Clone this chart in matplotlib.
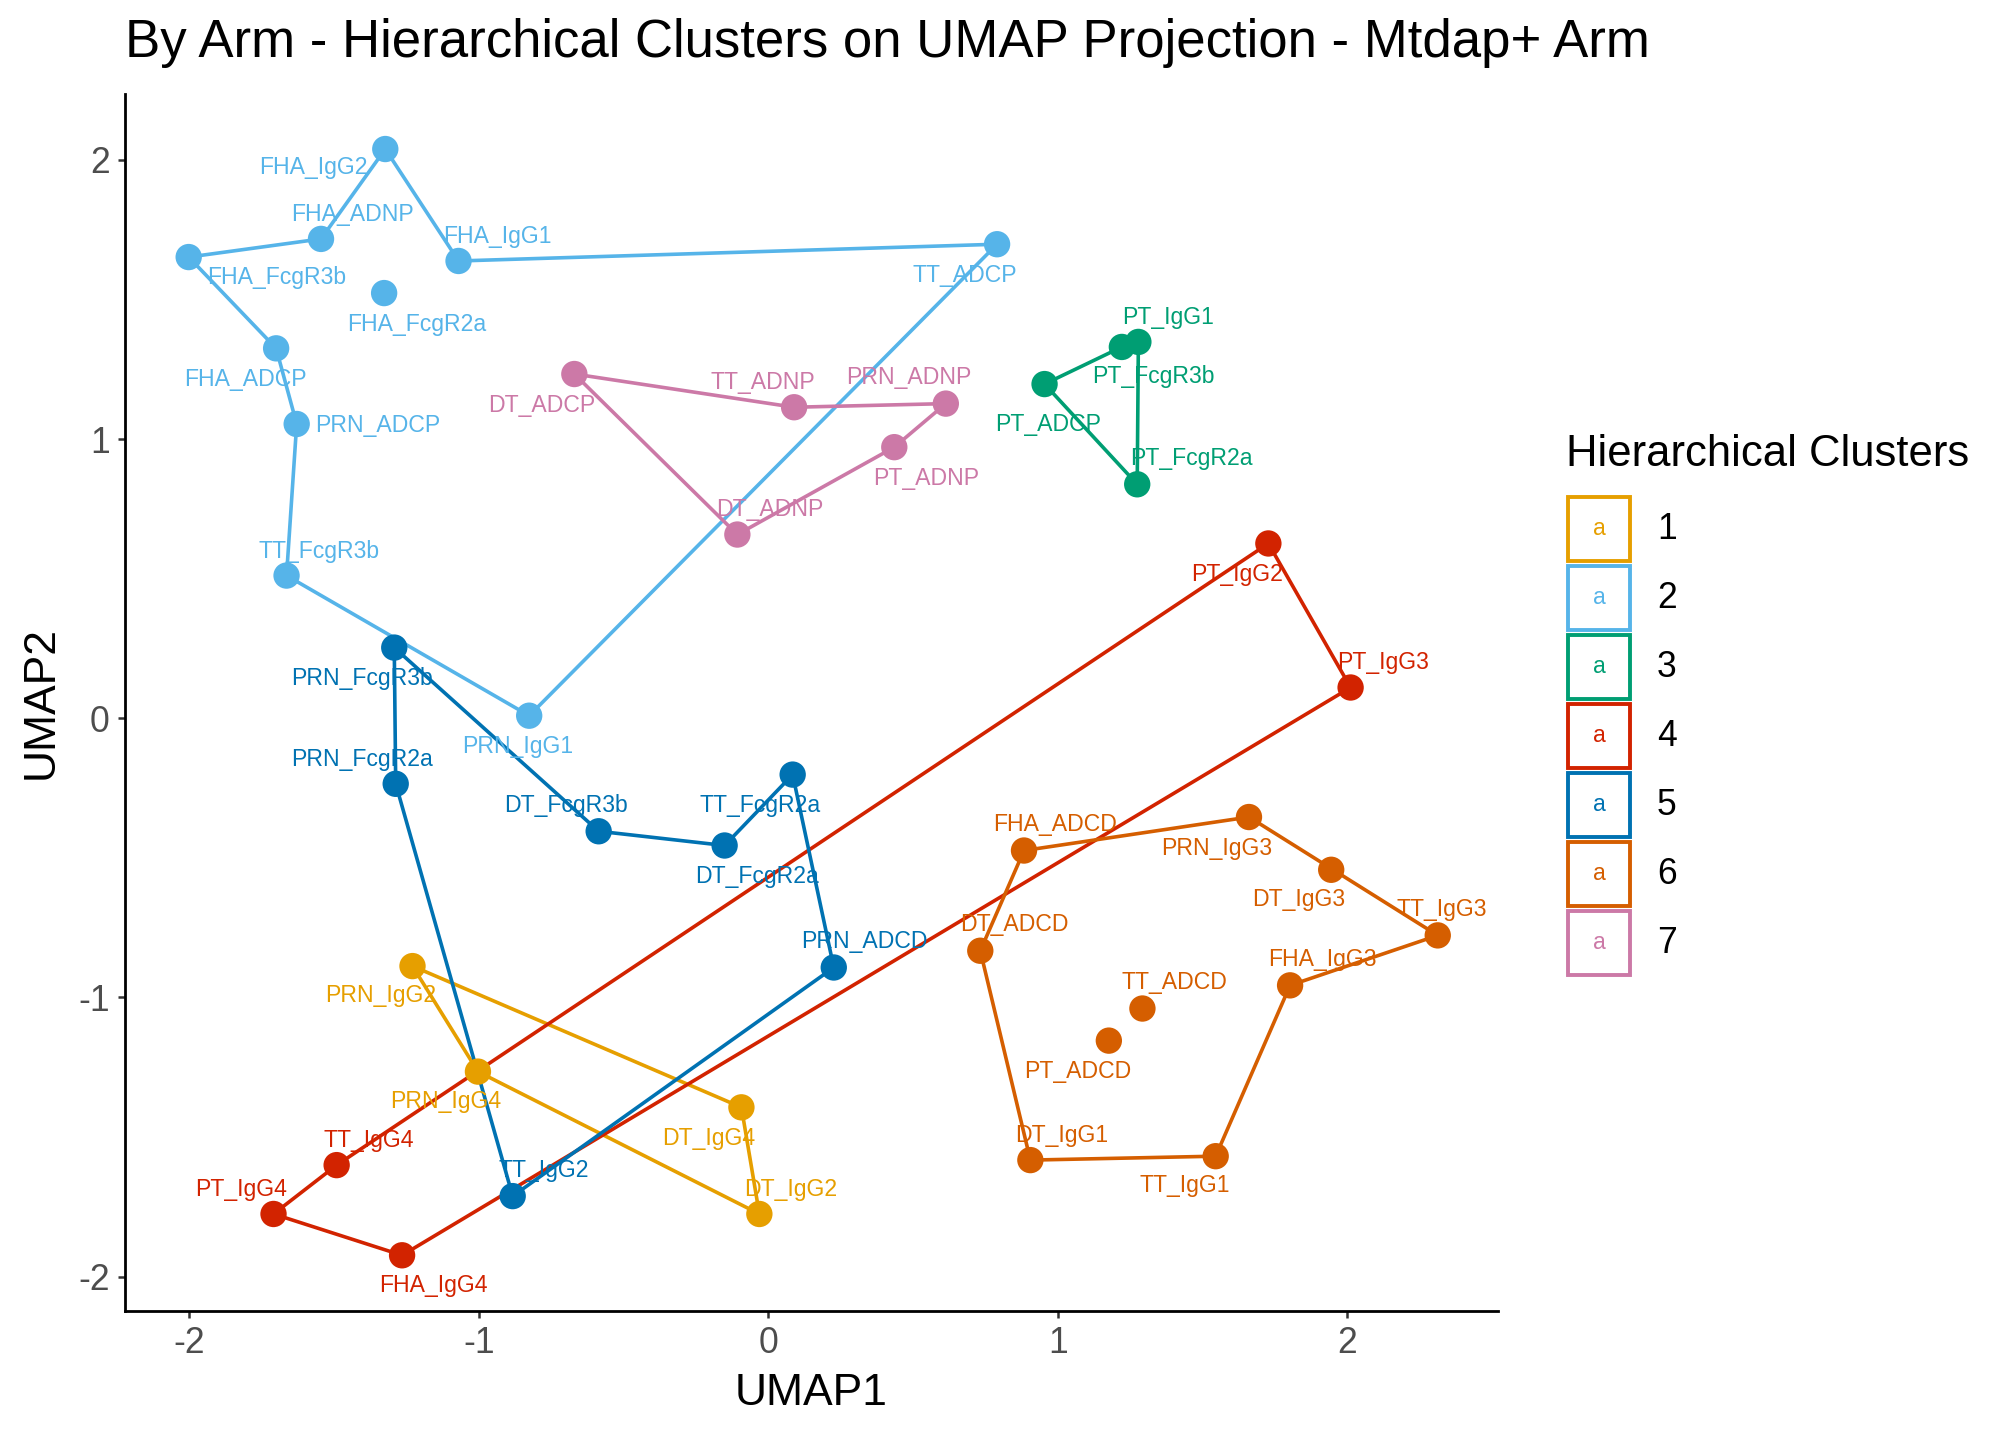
import matplotlib
matplotlib.use("Agg")
import matplotlib.pyplot as plt
from matplotlib.patches import Rectangle

plt.rcParams['font.family'] = ['Liberation Sans', 'DejaVu Sans']
plt.rcParams['axes.unicode_minus'] = False

# cluster colours
palette = ["#E69F00", "#56B4E9", "#009E73", "#D22300",
           "#0072B2", "#D55E00", "#CC79A7"]
cluster_names = ["1", "2", "3", "4", "5", "6", "7"]

# UMAP coordinates of each feature
labels = ["FHA_IgG2", "FHA_ADNP", "FHA_IgG1", "FHA_FcgR3b", "FHA_FcgR2a",
          "TT_ADCP", "FHA_ADCP", "PRN_ADCP", "TT_FcgR3b", "PRN_IgG1",
          "DT_ADCP", "TT_ADNP", "PRN_ADNP", "PT_ADNP", "DT_ADNP",
          "PT_IgG1", "PT_FcgR3b", "PT_ADCP", "PT_FcgR2a",
          "PT_IgG2", "PT_IgG3", "TT_IgG4", "PT_IgG4", "FHA_IgG4",
          "PRN_FcgR3b", "PRN_FcgR2a", "DT_FcgR3b", "DT_FcgR2a", "TT_FcgR2a",
          "PRN_ADCD", "TT_IgG2",
          "PRN_IgG2", "PRN_IgG4", "DT_IgG4", "DT_IgG2",
          "FHA_ADCD", "PRN_IgG3", "DT_IgG3", "TT_IgG3", "FHA_IgG3",
          "DT_ADCD", "TT_ADCD", "PT_ADCD", "DT_IgG1", "TT_IgG1"]
umap1 = [-1.323, -1.545, -1.070, -2.002, -1.327,
         0.790, -1.700, -1.629, -1.664, -0.826,
         -0.670, 0.089, 0.613, 0.435, -0.107,
         1.278, 1.221, 0.954, 1.274,
         1.727, 2.011, -1.491, -1.709, -1.265,
         -1.292, -1.287, -0.586, -0.151, 0.084,
         0.226, -0.883,
         -1.229, -1.003, -0.093, -0.031,
         0.883, 1.660, 1.944, 2.312, 1.802,
         0.732, 1.292, 1.176, 0.905, 1.545]
umap2 = [2.039, 1.717, 1.638, 1.652, 1.523,
         1.698, 1.325, 1.054, 0.511, 0.009,
         1.233, 1.114, 1.127, 0.971, 0.658,
         1.348, 1.330, 1.197, 0.838,
         0.626, 0.110, -1.601, -1.776, -1.924,
         0.253, -0.235, -0.405, -0.456, -0.202,
         -0.893, -1.712,
         -0.888, -1.266, -1.394, -1.776,
         -0.474, -0.354, -0.543, -0.778, -0.957,
         -0.833, -1.040, -1.155, -1.583, -1.569]
cluster = [2, 2, 2, 2, 2, 2, 2, 2, 2, 2,
           7, 7, 7, 7, 7,
           3, 3, 3, 3,
           4, 4, 4, 4, 4,
           5, 5, 5, 5, 5, 5, 5,
           1, 1, 1, 1,
           6, 6, 6, 6, 6, 6, 6, 6, 6, 6]

# hull outline order per cluster
hulls = {
    1: ["PRN_IgG2", "DT_IgG4", "DT_IgG2", "PRN_IgG4"],
    2: ["FHA_FcgR3b", "FHA_ADNP", "FHA_IgG2", "FHA_IgG1", "TT_ADCP",
        "PRN_IgG1", "TT_FcgR3b", "PRN_ADCP", "FHA_ADCP"],
    3: ["PT_ADCP", "PT_FcgR3b", "PT_IgG1", "PT_FcgR2a"],
    4: ["PT_IgG4", "TT_IgG4", "PT_IgG2", "PT_IgG3", "FHA_IgG4"],
    5: ["PRN_FcgR3b", "DT_FcgR3b", "DT_FcgR2a", "TT_FcgR2a", "PRN_ADCD",
        "TT_IgG2", "PRN_FcgR2a"],
    6: ["FHA_ADCD", "PRN_IgG3", "TT_IgG3", "FHA_IgG3", "TT_IgG1",
        "DT_IgG1", "DT_ADCD"],
    7: ["DT_ADCP", "TT_ADNP", "PRN_ADNP", "PT_ADNP", "DT_ADNP"],
}

# text label nudges (reference pixels, x right / y down)
nudge = {
    "FHA_IgG2": (-56, 14), "FHA_ADNP": (24, -19), "FHA_IgG1": (30, -19),
    "FHA_FcgR3b": (68, 16), "FHA_FcgR2a": (25, 24), "TT_ADCP": (-25, 24),
    "FHA_ADCP": (-24, 24), "PRN_ADCP": (63, 1), "TT_FcgR3b": (25, -19),
    "PRN_IgG1": (-9, 24), "DT_ADCP": (-25, 24), "TT_ADNP": (-24, -19),
    "PRN_ADNP": (-29, -20), "PT_ADNP": (25, 24), "DT_ADNP": (25, -19),
    "PT_IgG1": (23, -19), "PT_FcgR3b": (24, 23), "PT_ADCP": (3, 31),
    "PT_FcgR2a": (42, -20), "PT_IgG2": (-24, 24), "PT_IgG3": (25, -19),
    "TT_IgG4": (25, -19), "PT_IgG4": (-25, -19), "FHA_IgG4": (24, 23),
    "PRN_FcgR3b": (-25, 24), "PRN_FcgR2a": (-26, -19),
    "DT_FcgR3b": (-25, -20), "DT_FcgR2a": (25, 24), "TT_FcgR2a": (-25, 24),
    "PRN_ADCD": (24, -20), "TT_IgG2": (24, -20), "PRN_IgG2": (-25, 23),
    "PRN_IgG4": (-25, 23), "DT_IgG4": (-25, 24), "DT_IgG2": (24, -19),
    "FHA_ADCD": (24, -20), "PRN_IgG3": (-25, 24), "DT_IgG3": (-25, 23),
    "TT_IgG3": (3, -20), "FHA_IgG3": (25, -20), "DT_ADCD": (26, -20),
    "TT_ADCD": (25, -20), "PT_ADCD": (-24, 24), "DT_IgG1": (24, -19),
    "TT_IgG1": (-24, 23),
}
px_to_pt = 1.292 * 72 / 200

fig = plt.figure(figsize=(10.08, 7.2), dpi=200)
ax = fig.add_axes([0.062, 0.0895, 0.6809, 0.8450])

idx = {lab: i for i, lab in enumerate(labels)}

# hulls
for c, order in hulls.items():
    xs = [umap1[idx[l]] for l in order] + [umap1[idx[order[0]]]]
    ys = [umap2[idx[l]] for l in order] + [umap2[idx[order[0]]]]
    ax.plot(xs, ys, color=palette[c - 1], lw=1.3, zorder=2)

# points
cols = [palette[c - 1] for c in cluster]
ax.scatter(umap1, umap2, s=90, c=cols, edgecolors="none", zorder=3)

# labels
for i, lab in enumerate(labels):
    dx, dy = nudge[lab]
    ax.annotate(lab, (umap1[i], umap2[i]),
                xytext=(dx * px_to_pt, -dy * px_to_pt),
                textcoords="offset points", ha="center", va="center",
                fontsize=8.3, color=cols[i], zorder=4)

ax.set_xlim(-2.222, 2.519)
ax.set_ylim(-2.124, 2.235)
ax.set_xticks([-2, -1, 0, 1, 2])
ax.set_yticks([-2, -1, 0, 1, 2])
for s in ["top", "right"]:
    ax.spines[s].set_visible(False)
for s in ["left", "bottom"]:
    ax.spines[s].set_linewidth(1.0)
ax.tick_params(length=2.5, width=0.9, color="#333333",
               labelcolor="#4D4D4D", labelsize=12.8, pad=3)
ax.set_xlabel("UMAP1", fontsize=16, labelpad=4)
ax.set_ylabel("UMAP2", fontsize=16, labelpad=6)

fig.text(0.062, 0.970, "By Arm - Hierarchical Clusters on UMAP Projection - Mtdap+ Arm",
         fontsize=19.0, ha="left", va="center")

# legend
W, H = 2016.0, 1440.0
fig.text(1566 / W, 1 - 455 / H, "Hierarchical Clusters", fontsize=15.7,
         ha="left", va="center")
key_top = 495
key_h = 69
for k, name in enumerate(cluster_names):
    top = key_top + k * key_h
    fig.add_artist(Rectangle((1568 / W, 1 - (top + key_h - 3) / H),
                             62 / W, (key_h - 5) / H, transform=fig.transFigure,
                             fill=False, edgecolor=palette[k], lw=1.4))
    fig.text(1599 / W, 1 - (top + key_h / 2 - 1) / H, "a", color=palette[k],
             fontsize=8.3, ha="center", va="center")
    fig.text(1657 / W, 1 - (top + key_h / 2) / H, name, fontsize=12.8,
             ha="left", va="center")

fig.savefig("out.png", dpi=200)
